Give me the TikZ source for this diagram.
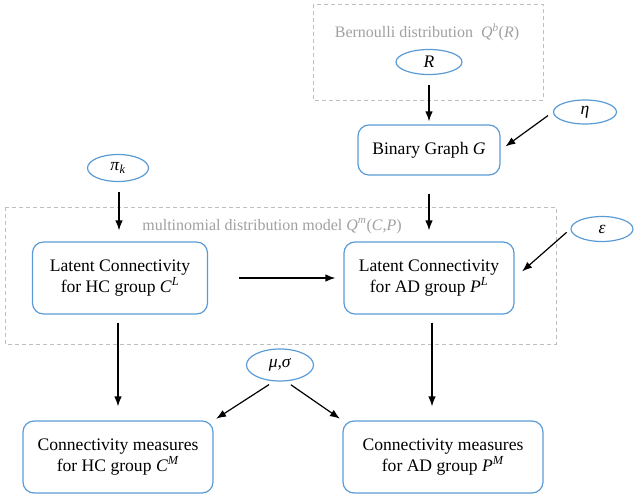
\documentclass[tikz,border=0pt]{standalone}
\usepackage{fontspec}
\setmainfont{Liberation Serif}
\usetikzlibrary{shapes.geometric,arrows.meta}
\definecolor{boxblue}{RGB}{91,155,213}
\definecolor{framegray}{RGB}{191,191,191}
\definecolor{labelgray}{RGB}{160,160,160}
\begin{document}
\begin{tikzpicture}
		[x=1pt,y=-1pt,
		font=\fontsize{17.6}{20.5}\selectfont,
		place/.style={ellipse,draw=boxblue,line width=1.2pt,
inner sep=0pt},
		block/.style={rectangle,rounded corners=11pt,draw=boxblue,line width=1.2pt,
inner sep=2pt,minimum height=72pt,align=center},
		frame/.style={framegray,line width=1pt,dash pattern=on 4pt off 3pt},
		framelabel/.style={labelgray,inner sep=0pt,font=\fontsize{16}{19}\selectfont},
		edgestyle/.style={->,>={Latex[length=10pt,width=7.5pt]},line width=1.2pt}]
		\useasboundingbox (0,0) rectangle (638,498);
		\draw[frame] (313,4) rectangle (543,100);
		\draw[frame] (5,207) rectangle (556,344);
		\node at (427,32) (bern) [framelabel] {Bernoulli distribution\ \ \textit{Q}\textsuperscript{\textit{b}}(\textit{R})};
		\node at (272,226) (multi) [framelabel] {multinomial distribution model \textit{Q}\textsuperscript{\textit{m}}(\textit{C},\textit{P})};
		\node at (429,62) (R) [place,minimum width=66pt,minimum height=25pt] {\textit{R}};
		\node at (585,112) (eta) [place,minimum width=63pt,minimum height=24pt] {\textit{η}};
		\node at (429,150) (G) [block,minimum width=142pt,minimum height=50pt] {Binary Graph \textit{G}}
			edge [edgestyle,<-,shorten <=3pt,shorten >=10pt] (R);
		\node at (118,168) (pi) [place,minimum width=61pt,minimum height=27pt] {\textit{π}\textsubscript{\textit{k}}};
		\node at (120,278) (HC) [block,minimum width=175pt] {Latent Connectivity\\for HC group \textit{C}\textsuperscript{\textit{L}}};
		\node at (602,229) (eps) [place,minimum width=62pt,minimum height=25pt] {\textit{ε}};
		\node at (429,278) (AD) [block,minimum width=170pt] {Latent Connectivity\\for AD group \textit{P}\textsuperscript{\textit{L}}}
			edge [edgestyle,<-,shorten <=11pt,shorten >=18pt] (G)
			edge [edgestyle,<-,shorten <=8pt,shorten >=31pt] (HC);
		\node at (280,365) (mu) [place,minimum width=67pt,minimum height=32pt] {\textit{μ},\textit{σ}};
		\node at (118,457) (HCM) [block,minimum width=190pt] {Connectivity measures\\for HC group \textit{C}\textsuperscript{\textit{M}}};
		\node at (443,457) (ADM) [block,minimum width=200pt] {Connectivity measures\\for AD group \textit{P}\textsuperscript{\textit{M}}};
		\draw [edgestyle,shorten <=6pt,shorten >=6pt] (eta.west) -- (G.east);
		\draw [edgestyle,shorten <=10pt,shorten >=11pt] (pi.south -| 119,0) -- (HC.north -| 119,0);
		\draw [edgestyle,shorten <=5pt,shorten >=10pt] (eps.west) -- (AD.east);
		\draw [edgestyle,shorten <=8pt,shorten >=14pt] (HC.south -| 118,0) -- (HCM.north -| 118,0);
		\draw [edgestyle,shorten <=8pt,shorten >=14pt] (AD.south -| 432,0) -- (ADM.north -| 432,0);
		\draw [edgestyle,shorten <=6pt,shorten >=3pt] (mu.250) -- (HCM.north east);
		\draw [edgestyle,shorten <=6pt,shorten >=3pt] (mu.290) -- (ADM.north west);
	\end{tikzpicture}
\end{document}
